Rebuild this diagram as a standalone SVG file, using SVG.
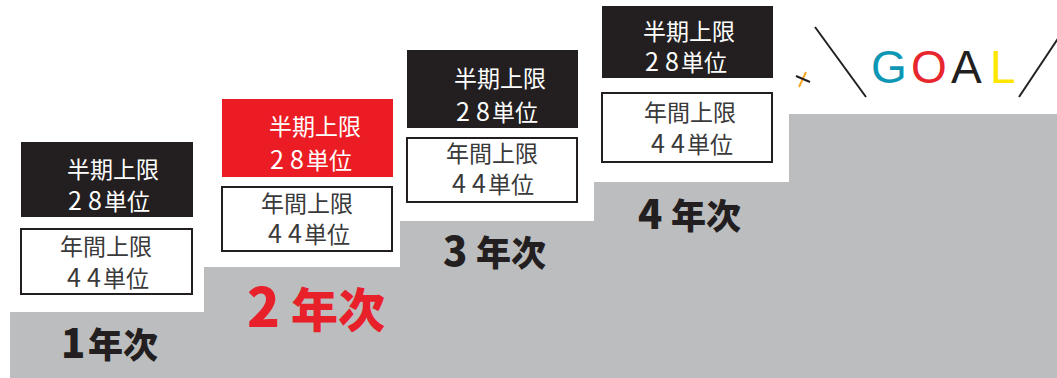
<svg xmlns="http://www.w3.org/2000/svg" width="1057" height="378" viewBox="0 0 1057 378">
<style>
.dark{fill:#231f20}
.red{fill:#ec1c24}
.wbox{fill:#ffffff;stroke:#231f20;stroke-width:2}
.bt{font-family:"Noto Sans CJK JP","Noto Sans",sans-serif;font-size:23px;fill:#ffffff;text-anchor:middle}
.wt{font-family:"Noto Sans CJK JP","Noto Sans",sans-serif;font-size:23px;fill:#3a3a3a;text-anchor:middle}
.dg{font-size:25px}
.yr{font-family:"Noto Sans CJK JP","Noto Sans",sans-serif;font-weight:900;font-size:35px;fill:#231f20}
.yd{font-size:40px}
.goal{font-family:"Liberation Sans","DejaVu Sans",sans-serif;font-size:46px}
.ln{stroke:#231f20;stroke-width:2;fill:none}
</style>
<rect width="1057" height="378" fill="#ffffff"/>
<g id="steps">
<polygon points="10,378 10,312 204,312 204,267 400,267 400,221 594,221 594,182 789,182 789,114 1057,114 1057,378" fill="#bcbdbf"/>
</g>
<g id="year1">
<rect class="dark" x="21" y="142" width="172" height="75"/>
<text class="bt" x="113" y="178">半期上限</text>
<text class="bt" x="109" y="210"><tspan class="dg">2</tspan><tspan class="dg" dx="6">8</tspan><tspan dx="2">単位</tspan></text>
<rect class="wbox" x="21" y="229" width="171" height="65"/>
<text class="wt" x="106" y="255">年間上限</text>
<text class="wt" x="108" y="287"><tspan class="dg">4</tspan><tspan class="dg" dx="6">4</tspan><tspan dx="2">単位</tspan></text>
<text class="yr" y="358"><tspan class="yd" x="61">1</tspan><tspan x="88">年次</tspan></text>
</g>
<g id="year2">
<rect class="red" x="222" y="99" width="171" height="78"/>
<text class="bt" x="315" y="135">半期上限</text>
<text class="bt" x="311" y="169"><tspan class="dg">2</tspan><tspan class="dg" dx="6">8</tspan><tspan dx="2">単位</tspan></text>
<rect class="wbox" x="222" y="187" width="170" height="64"/>
<text class="wt" x="307" y="212">年間上限</text>
<text class="wt" x="309" y="243"><tspan class="dg">4</tspan><tspan class="dg" dx="6">4</tspan><tspan dx="2">単位</tspan></text>
<text class="yr" style="fill:#e8202a;font-size:47px" y="327"><tspan style="font-size:54px" x="247">2</tspan><tspan x="291">年次</tspan></text>
</g>
<g id="year3">
<rect class="dark" x="407" y="50" width="171" height="78"/>
<text class="bt" x="500" y="87">半期上限</text>
<text class="bt" x="497" y="121"><tspan class="dg">2</tspan><tspan class="dg" dx="6">8</tspan><tspan dx="2">単位</tspan></text>
<rect class="wbox" x="407" y="138" width="170" height="64"/>
<text class="wt" x="492" y="162">年間上限</text>
<text class="wt" x="493" y="193"><tspan class="dg">4</tspan><tspan class="dg" dx="6">4</tspan><tspan dx="2">単位</tspan></text>
<text class="yr" y="266"><tspan class="yd" x="443">3</tspan><tspan x="476">年次</tspan></text>
</g>
<g id="year4">
<rect class="dark" x="602" y="6" width="171" height="72"/>
<text class="bt" x="689" y="40">半期上限</text>
<text class="bt" x="686" y="71"><tspan class="dg">2</tspan><tspan class="dg" dx="6">8</tspan><tspan dx="2">単位</tspan></text>
<rect class="wbox" x="602" y="93" width="170" height="69"/>
<text class="wt" x="690" y="121">年間上限</text>
<text class="wt" x="692" y="153"><tspan class="dg">4</tspan><tspan class="dg" dx="6">4</tspan><tspan dx="2">単位</tspan></text>
<text class="yr" y="229"><tspan class="yd" x="638">4</tspan><tspan x="671">年次</tspan></text>
</g>
<g id="goal">
<line x1="799" y1="87" x2="806" y2="72" stroke="#f7a823" stroke-width="2"/>
<line class="ln" x1="796" y1="76" x2="810" y2="82"/>
<line class="ln" x1="815" y1="27" x2="866" y2="97"/>
<line class="ln" x1="1019" y1="97" x2="1059" y2="37"/>
<text class="goal" y="83"><tspan x="871" fill="#0e97b4">G</tspan><tspan x="911" fill="#e8262d">O</tspan><tspan x="951" fill="#231f20">A</tspan><tspan x="990" fill="#ffe600">L</tspan></text>
</g>
</svg>
